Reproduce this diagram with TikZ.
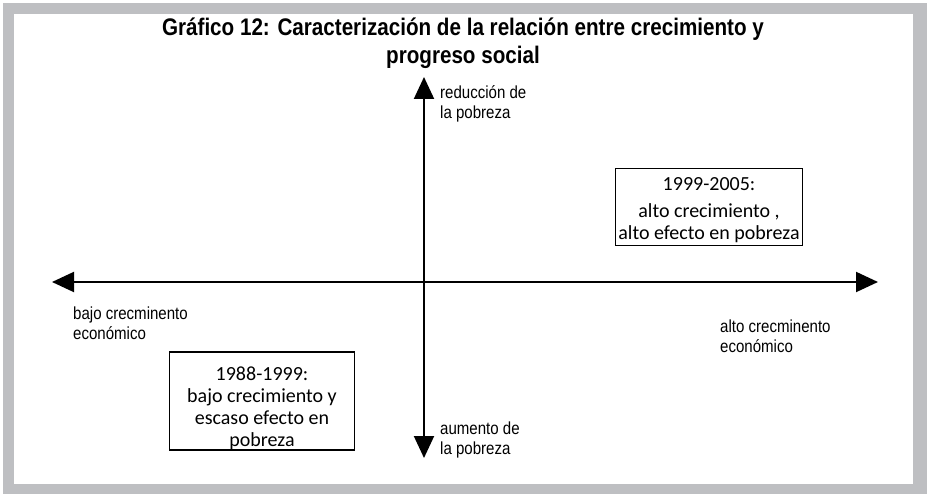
\documentclass[tikz,border=0pt]{standalone}
\usepackage{fontspec}
\setmainfont{Liberation Sans}
\newfontfamily\narrowfont[FakeStretch=0.86]{Liberation Sans}
\newfontfamily\boxfont{Carlito}
\usepackage{xcolor}
\definecolor{frameGray}{RGB}{190,191,194}
\usetikzlibrary{arrows.meta}
\usetikzlibrary{positioning}
\tikzstyle{title} = [font={\narrowfont\bfseries\fontsize{24}{28}\selectfont}, align=center]
\tikzstyle{axislabel} = [font={\narrowfont\fontsize{17.5}{20}\selectfont}, align=left, inner sep=0pt]
\tikzstyle{period} = [draw, line width=1.6pt, font={\boxfont\fontsize{20}{22}\selectfont}, align=center, inner sep=0pt]
\tikzstyle{axis} = [line width=2pt, {Triangle[length=22pt,width=20pt]}-{Triangle[length=22pt,width=20pt]}]

\begin{document}
\begin{tikzpicture}[x=1pt, y=-1pt]
        \useasboundingbox (0,0) rectangle (927,494);
        \fill [frameGray] (3,3) rectangle (927,494);
        \fill [white] (14,14) rectangle (913,484);
        \node [title] (head) at (463,43) {Gráfico 12: Caracterización de la relación entre crecimiento y\\progreso social};
        \coordinate (north) at (424,77);
        \coordinate (south) at (424,458);
        \coordinate (west) at (52,282);
        \coordinate (east) at (878,282);
        \draw [axis] (west) -- (east);
        \draw [axis] (south) -- (north);
        \node [axislabel, below right=8pt and 16pt of north] (up) {reducción de\\la pobreza};
        \node [axislabel, above right=0pt and 16pt of south] (down) {aumento de\\la pobreza};
        \node [axislabel, below right=25pt and 21pt of west] (low) {bajo crecminento\\económico};
        \node [axislabel, anchor=north west] (high) at (720,320) {alto crecminento\\económico};
        \node [period, minimum width=187pt, minimum height=77pt] (boom) at (709,207)
            {\rule{0pt}{20pt}1999-2005:\\[5pt]alto crecimiento ,\\alto efecto en pobreza};
        \node [period, minimum width=185pt, minimum height=97pt] (slow) at (262,401)
            {\rule{0pt}{29pt}1988-1999:\\bajo crecimiento y\\escaso efecto en\\pobreza};
    \end{tikzpicture}
\end{document}
